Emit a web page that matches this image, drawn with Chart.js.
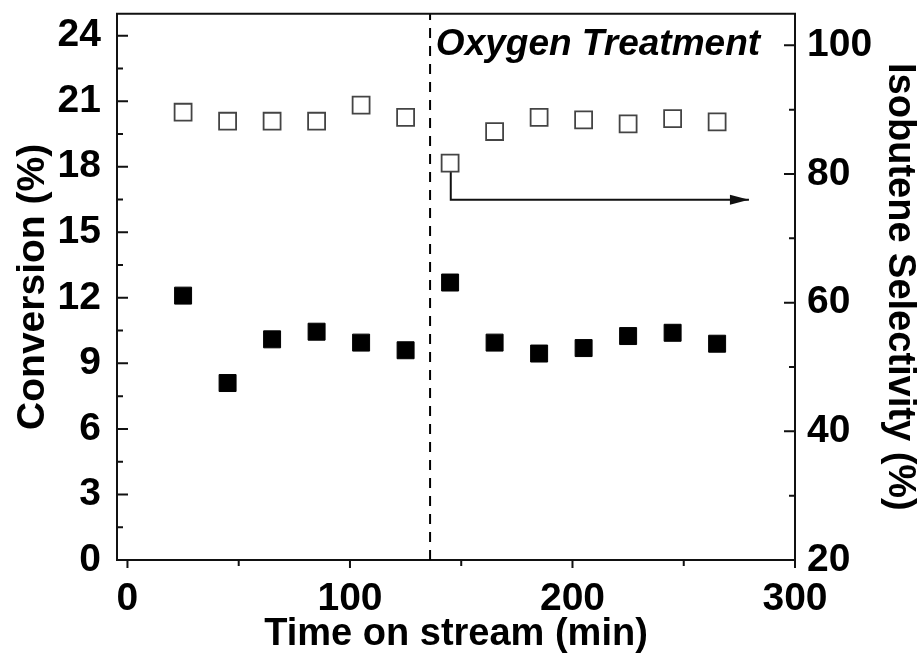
<!DOCTYPE html>
<html><head><meta charset="utf-8">
<script src="https://cdn.jsdelivr.net/npm/chart.js@4/dist/chart.umd.min.js"></script>
<style>html,body{margin:0;padding:0;background:#fff;}</style>
</head><body>
<canvas id="c" width="923" height="659"></canvas>
<script>
// ---- data ----
const times = [25, 45, 65, 85, 105, 125, 145, 165, 185, 205, 225, 245, 265];
const conversion = [12.1, 8.1, 10.1, 10.45, 9.95, 9.6, 12.7, 9.95, 9.45, 9.7, 10.25, 10.4, 9.9];
const selectivity = [89.6, 88.2, 88.2, 88.2, 90.7, 88.8, 81.7, 86.6, 88.8, 88.4, 87.8, 88.6, 88.1];
const xTicksMajor = [0, 100, 200, 300];
const xTicksMinor = [50, 150, 250];
const yTicksMajor = [0, 3, 6, 9, 12, 15, 18, 21, 24];
const yTicksMinor = [1.5, 4.5, 7.5, 10.5, 13.5, 16.5, 19.5, 22.5];
const y2TicksMajor = [20, 40, 60, 80, 100];
const y2TicksMinor = [30, 50, 70, 90];
const treatmentTime = 136;
const arrowX = [145.3, 145.3, 279.3];
const arrowY = [80.3, 76, 76];
const noteText = 'Oxygen Treatment';
const notePos = {x: 138.6, y: 23.1};

const FONT = '"Liberation Sans", Arial, sans-serif';

const decor = {
  id: 'decor',
  afterDatasetsDraw(chart) {
    const {ctx, chartArea: a, scales: {x, y, y2}} = chart;
    ctx.save();
    ctx.strokeStyle = '#111';
    ctx.lineWidth = 2;
    ctx.beginPath();
    ctx.moveTo(a.left - 1, a.top); ctx.lineTo(a.right + 1, a.top);
    xTicksMajor.forEach(v => { const p = x.getPixelForValue(v); ctx.moveTo(p, a.bottom); ctx.lineTo(p, a.bottom + 8); });
    xTicksMinor.forEach(v => { const p = x.getPixelForValue(v); ctx.moveTo(p, a.bottom); ctx.lineTo(p, a.bottom + 6); });
    yTicksMajor.forEach(v => { const p = y.getPixelForValue(v); ctx.moveTo(a.left, p); ctx.lineTo(a.left + 11, p); });
    yTicksMinor.forEach(v => { const p = y.getPixelForValue(v); ctx.moveTo(a.left, p); ctx.lineTo(a.left + 6, p); });
    y2TicksMajor.forEach(v => { const p = y2.getPixelForValue(v); ctx.moveTo(a.right, p); ctx.lineTo(a.right - 11, p); });
    y2TicksMinor.forEach(v => { const p = y2.getPixelForValue(v); ctx.moveTo(a.right, p); ctx.lineTo(a.right - 6, p); });
    ctx.stroke();
    // arrow head
    const tx = x.getPixelForValue(arrowX[2]), ty = y2.getPixelForValue(arrowY[2]);
    ctx.fillStyle = '#111';
    ctx.beginPath();
    ctx.moveTo(tx, ty); ctx.lineTo(tx - 19, ty - 5); ctx.lineTo(tx - 19, ty + 5); ctx.closePath();
    ctx.fill();
    // note
    ctx.font = 'italic bold 37px ' + FONT;
    ctx.fillStyle = '#000';
    ctx.textAlign = 'left';
    ctx.textBaseline = 'alphabetic';
    ctx.fillText(noteText, x.getPixelForValue(notePos.x), y.getPixelForValue(notePos.y));
    ctx.restore();
  }
};

const setTicks = vals => scale => { scale.ticks = vals.map(v => ({value: v})); };
const fitV = w => s => { s.width = w; s.paddingTop = 0; s.paddingBottom = 0; };
const fitH = h => s => { s.height = h; s.paddingLeft = 0; s.paddingRight = 0; };

new Chart(document.getElementById('c'), {
  type: 'scatter',
  data: {
    datasets: [
      {
        label: 'Conversion',
        data: times.map((t, i) => ({x: t, y: conversion[i]})),
        yAxisID: 'y',
        pointStyle: 'rect',
        pointRadius: 12,
        pointHoverRadius: 12,
        backgroundColor: '#000',
        borderColor: '#000',
        borderWidth: 1,
        order: 1
      },
      {
        label: 'Selectivity',
        data: times.map((t, i) => ({x: t, y: selectivity[i]})),
        yAxisID: 'y2',
        pointStyle: 'rect',
        pointRadius: 12,
        pointHoverRadius: 12,
        backgroundColor: '#fff',
        borderColor: '#444',
        borderWidth: 1.8,
        order: 1
      },
      {
        label: 'treatment',
        data: [{x: treatmentTime, y: 0}, {x: treatmentTime, y: 25}],
        yAxisID: 'y',
        showLine: true,
        borderColor: '#000',
        borderWidth: 2,
        borderDash: [10, 8],
        pointRadius: 0,
        order: 2
      },
      {
        label: 'arrow',
        data: arrowX.map((v, i) => ({x: v, y: arrowY[i]})),
        yAxisID: 'y2',
        showLine: true,
        borderColor: '#111',
        borderWidth: 2,
        pointRadius: 0,
        order: 2
      }
    ]
  },
  options: {
    responsive: false,
    animation: false,
    events: [],
    layout: {padding: {top: 13, left: 0, right: 0, bottom: 0}},
    plugins: {legend: {display: false}, tooltip: {enabled: false}},
    scales: {
      x: {
        type: 'linear', position: 'bottom', min: -4.7, max: 300,
        afterBuildTicks: setTicks(xTicksMajor),
        afterFit: fitH(99),
        grid: {display: false},
        border: {display: true, color: '#111', width: 2},
        ticks: {color: '#000', font: {family: FONT, size: 39, weight: 'bold'}, padding: 8, maxRotation: 0},
        title: {display: true, text: 'Time on stream (min)', color: '#000',
                font: {family: FONT, size: 38, weight: 'bold', lineHeight: 1}, padding: {top: 0, bottom: 5}}
      },
      y: {
        type: 'linear', position: 'left', min: 0, max: 25,
        afterBuildTicks: setTicks(yTicksMajor),
        afterFit: fitV(117),
        grid: {display: false},
        border: {display: true, color: '#111', width: 2},
        ticks: {color: '#000', font: {family: FONT, size: 39, weight: 'bold'}, padding: 8},
        title: {display: true, text: 'Conversion (%)', color: '#000',
                font: {family: FONT, size: 39, weight: 'bold', lineHeight: 1}, padding: {top: 14, bottom: 0}}
      },
      y2: {
        type: 'linear', position: 'right', min: 20, max: 104.9,
        afterBuildTicks: setTicks(y2TicksMajor),
        afterFit: fitV(128),
        grid: {display: false},
        border: {display: true, color: '#111', width: 2},
        ticks: {color: '#000', font: {family: FONT, size: 39, weight: 'bold'}, padding: 4},
        title: {display: true, text: 'Isobutene Selectivity (%)', color: '#000',
                font: {family: FONT, size: 38, weight: 'bold', lineHeight: 1}, padding: {top: 5, bottom: 0}}
      }
    }
  },
  plugins: [decor]
});
</script>
</body></html>
